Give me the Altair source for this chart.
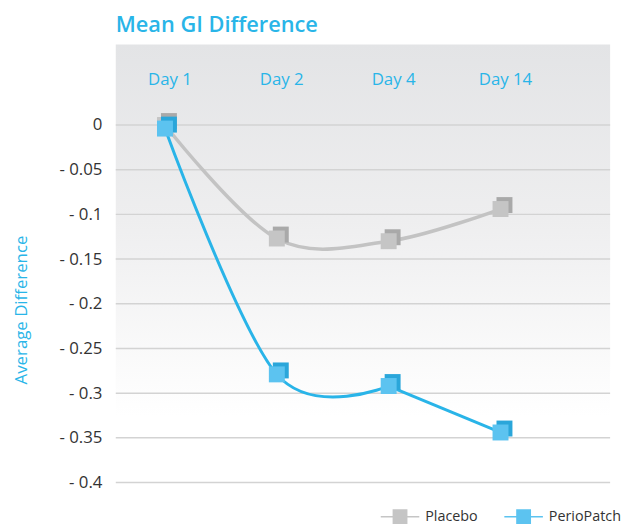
import altair as alt
import pandas as pd

title = "Mean GI Difference"
y_title = "Average Difference"
days = ["Day 1", "Day 2", "Day 4", "Day 14"]
series = ["Placebo", "PerioPatch"]
placebo = [0.0, -0.127, -0.130, -0.094]
periopatch = [-0.004, -0.279, -0.292, -0.344]
y_ticks = [0, -0.05, -0.1, -0.15, -0.2, -0.25, -0.3, -0.35, -0.4]

front_colors = ["#c5c5c5", "#5cc3f0"]
side_colors = ["#a9a9a9", "#2aa6da"]
line_colors = ["#c3c3c3", "#29b4e8"]
straight_last = [False, True]
blue = "#29b5e8"
FONT = "Open Sans"

W, H = 500, 443

rows = []
for i, d in enumerate(days):
    rows.append({"idx": i, "day": d, "series": "Placebo", "value": placebo[i]})
    rows.append({"idx": i, "day": d, "series": "PerioPatch", "value": periopatch[i]})
df = pd.DataFrame(rows)
day_df = pd.DataFrame({"idx": list(range(len(days))), "day": days})
tick_df = pd.DataFrame({"value": y_ticks})

xs = alt.Scale(domain=[-0.44, 3.98], nice=False, zero=False)
ys = alt.Scale(domain=[-0.4, 0.09], nice=False, zero=False)
y_axis = alt.Axis(
    values=y_ticks,
    labelExpr="datum.value == 0 ? '0' : '- ' + format(-datum.value, '.2~f')",
    labelFontSize=17, labelColor="#333333", labelFont=FONT,
    ticks=False, domain=False, grid=False, labelPadding=14,
    title=y_title, titleColor=blue, titleFontSize=17, titleFont=FONT,
    titleFontWeight="normal", titleX=-95, titleY=268, titleAlign="center",
    titleBaseline="middle")
X = alt.X("idx:Q", scale=xs, axis=None)
Y = alt.Y("value:Q", scale=ys, axis=y_axis)

bg = alt.Chart(pd.DataFrame({"a": [0]})).mark_rect(
    color=alt.LinearGradient(
        gradient="linear",
        stops=[alt.GradientStop(offset=0, color="#e3e4e6"),
               alt.GradientStop(offset=0.4, color="#eeeeef"),
               alt.GradientStop(offset=0.85, color="#ffffff")],
        x1=0, x2=0, y1=0, y2=1)
).encode(x=alt.value(0), x2=alt.value(W), y=alt.value(0), y2=alt.value(H))

grid = alt.Chart(tick_df).mark_rule(color="#d3d3d3", strokeWidth=1.5).encode(
    y=Y, x=alt.value(0), x2=alt.value(W))

labels = alt.Chart(day_df).mark_text(
    color=blue, fontSize=17, font=FONT, baseline="middle", dx=5
).encode(x=X, y=alt.datum(0.05), text="day:N")

n = len(days)
layers = [bg, grid, labels]
for s, lc, sc, sl in zip(series, line_colors, side_colors, straight_last):
    base = alt.Chart(df).transform_filter(alt.datum.series == s)
    if sl:
        curve = base.transform_filter(alt.datum.idx <= n - 2).mark_line(
            color=lc, strokeWidth=3, interpolate="cardinal").encode(x=X, y=Y)
        tail = base.transform_filter(alt.datum.idx >= n - 2).mark_line(
            color=lc, strokeWidth=3).encode(x=X, y=Y)
        layers += [curve, tail]
    else:
        layers.append(base.mark_line(color=lc, strokeWidth=3.5, interpolate="cardinal").encode(x=X, y=Y))
    back = base.mark_square(fill=sc, opacity=1, size=260, xOffset=4, yOffset=-4).encode(x=X, y=Y)
    front = base.mark_square(opacity=1, size=260).encode(
        x=X, y=Y,
        color=alt.Color("series:N", scale=alt.Scale(domain=series, range=front_colors),
                        legend=alt.Legend(
                            title=None, orient="none", legendX=280, legendY=470,
                            direction="horizontal",
                            symbolType="M-2.6,-0.1H2.6V0.1H-2.6Z M-1,-1H1V1H-1Z",
                            symbolSize=225, symbolStrokeWidth=0,
                            labelFontSize=14.5, labelColor="#333333", labelFont=FONT,
                            labelOffset=18, columnPadding=26)))
    layers += [back, front]

chart = alt.layer(*layers).properties(
    width=W, height=H,
    padding={"left": 5, "top": 3, "right": 0, "bottom": 0},
    title=alt.TitleParams(title, anchor="start", frame="group", fontSize=22,
                          fontWeight=600, color=blue, font=FONT, offset=8),
).configure_view(stroke=None)

chart.save("out.html", embed_options={"renderer": "svg", "actions": False})
